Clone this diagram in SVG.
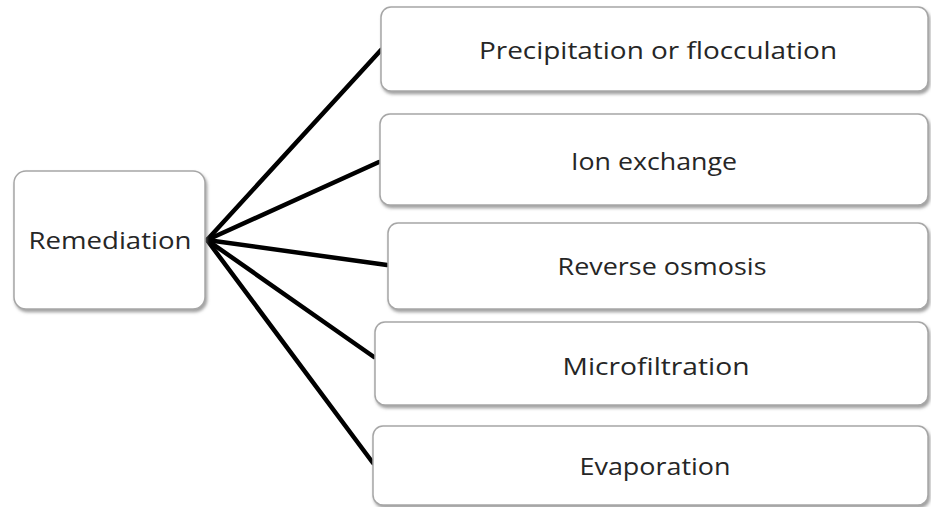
<svg xmlns="http://www.w3.org/2000/svg" width="931" height="507" viewBox="0 0 931 507">
<defs>
<filter id="sh" x="-5%" y="-10%" width="115%" height="130%">
<feDropShadow dx="1.5" dy="2.5" stdDeviation="1.5" flood-color="#777" flood-opacity="0.7"/>
</filter>
<style>
.box{fill:#ffffff;stroke:#a6a6a6;stroke-width:1.5;filter:url(#sh)}
.lbl{font-family:"Open Sans","Liberation Sans",sans-serif;font-size:23px;fill:#262626;text-anchor:middle;dominant-baseline:central}
.con{stroke:#000;stroke-width:4.5;stroke-linecap:round;fill:none}
</style>
</defs>
<rect width="931" height="507" fill="#ffffff"/>
<g id="connectors">
<line class="con" x1="207" y1="240" x2="381" y2="50"/>
<line class="con" x1="207" y1="240" x2="379" y2="162"/>
<line class="con" x1="207" y1="240" x2="387" y2="265"/>
<line class="con" x1="207" y1="240" x2="374" y2="357"/>
<line class="con" x1="207" y1="240" x2="373" y2="463"/>
</g>
<g id="remediation">
<rect class="box" x="14" y="171" width="191" height="138" rx="12"/>
<text class="lbl" x="110" y="240" textLength="163" lengthAdjust="spacingAndGlyphs">Remediation</text>
</g>
<g id="precipitation">
<rect class="box" x="381" y="7" width="547" height="84" rx="10"/>
<text class="lbl" x="658" y="50" textLength="358" lengthAdjust="spacingAndGlyphs">Precipitation or flocculation</text>
</g>
<g id="ion-exchange">
<rect class="box" x="380" y="114" width="548" height="91" rx="10"/>
<text class="lbl" x="654" y="161" textLength="166" lengthAdjust="spacingAndGlyphs">Ion exchange</text>
</g>
<g id="reverse-osmosis">
<rect class="box" x="388" y="223" width="540" height="86" rx="10"/>
<text class="lbl" x="662" y="266" textLength="209" lengthAdjust="spacingAndGlyphs">Reverse osmosis</text>
</g>
<g id="microfiltration">
<rect class="box" x="375" y="322" width="553" height="83" rx="10"/>
<text class="lbl" x="656" y="366" textLength="187" lengthAdjust="spacingAndGlyphs">Microfiltration</text>
</g>
<g id="evaporation">
<rect class="box" x="373" y="426" width="555" height="79" rx="10"/>
<text class="lbl" x="655" y="466" textLength="151" lengthAdjust="spacingAndGlyphs">Evaporation</text>
</g>
</svg>
